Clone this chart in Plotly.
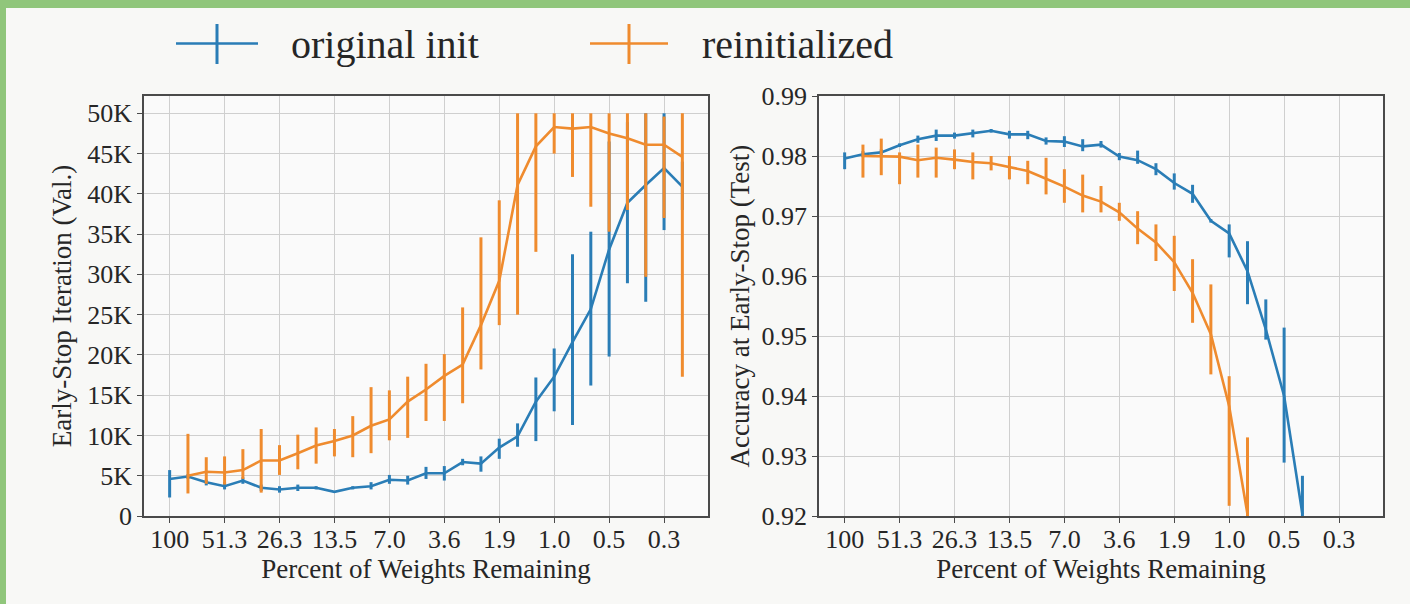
import plotly.graph_objects as go
from plotly.subplots import make_subplots

# ---- data -------------------------------------------------------------
rounds = list(range(29))                      # pruning rounds
tick_rounds = [0, 3, 6, 9, 12, 15, 18, 21, 24, 27]
tick_labels = ["100", "51.3", "26.3", "13.5", "7.0", "3.6", "1.9", "1.0", "0.5", "0.3"]

iter_tick_vals = [0, 5000, 10000, 15000, 20000, 25000, 30000, 35000, 40000, 45000, 50000]
iter_tick_text = ["0", "5K", "10K", "15K", "20K", "25K", "30K", "35K", "40K", "45K", "50K"]

# Early-stop iteration (thousands): mean, lower, upper
orig_iter = [4.6, 4.9, 4.2, 3.7, 4.4, 3.5, 3.3, 3.5, 3.5, 3.0, 3.5, 3.7, 4.5, 4.4, 5.3,
             5.3, 6.7, 6.5, 8.5, 9.9, 14.2, 17.3, 21.6, 25.7, 33.1, 38.9, 41.1, 43.2, 40.9]
orig_iter_lo = [2.3, 4.6, 3.8, 3.3, 4.0, 3.1, 2.9, 3.1, 3.3, 2.9, 3.3, 3.3, 4.0, 3.9, 4.6,
                4.4, 6.3, 5.5, 7.1, 8.6, 9.3, 13.0, 11.3, 16.2, 19.8, 28.9, 26.6, 35.5, 38.0]
orig_iter_hi = [5.7, 5.2, 4.5, 4.2, 4.8, 3.9, 3.7, 3.9, 3.7, 3.1, 3.7, 4.2, 5.1, 5.0, 6.1,
                6.2, 7.1, 7.4, 9.6, 11.5, 17.2, 20.8, 32.5, 35.3, 46.5, 48.9, 50.0, 50.0, 44.0]

reinit_iter = [None, 5.0, 5.5, 5.4, 5.7, 6.9, 6.9, 7.8, 8.75, 9.3, 10.0, 11.2, 12.0, 14.2, 15.7,
               17.4, 18.8, 23.7, 29.2, 41.1, 45.9, 48.3, 48.1, 48.3, 47.5, 46.9, 46.1, 46.1, 44.6]
reinit_iter_lo = [None, 2.8, 4.0, 3.9, 4.6, 2.9, 5.1, 5.8, 6.5, 7.4, 7.3, 7.8, 9.4, 9.7, 11.8,
                  11.8, 14.0, 18.2, 23.7, 25.0, 32.8, 45.0, 42.1, 38.4, 35.3, 38.0, 29.7, 37.0, 17.3]
reinit_iter_hi = [None, 10.2, 7.3, 7.4, 8.3, 10.8, 8.8, 10.1, 11.0, 10.8, 12.4, 16.0, 15.6, 17.3, 18.9,
                  20.1, 25.9, 34.6, 39.2, 50.0, 50.0, 50.0, 50.0, 50.0, 50.0, 50.0, 50.0, 49.6, 50.0]

# Test accuracy at early stop: mean, lower, upper
orig_acc = [.9796, .9803, .9806, .9818, .9828, .9834, .9834, .9838, .9842, .9836, .9836, .9825, .9824,
            .9816, .9819, .9799, .9793, .9778, .9755, .9737, .9692, .9671, .9608, .9511, .9400, .9203]
orig_acc_lo = [.9778, .9798, .9801, .9815, .9822, .9825, .9829, .9831, .9839, .9829, .9828, .9819, .9815,
               .9808, .9814, .9793, .9787, .9768, .9744, .9722, .9689, .9631, .9553, .9494, .9289, .9150]
orig_acc_hi = [.9806, .9808, .9811, .9821, .9834, .9844, .9839, .9844, .9845, .9842, .9842, .9831, .9833,
               .9828, .9825, .9805, .9809, .9788, .9771, .9752, .9695, .9686, .9658, .9561, .9514, .9267]

reinit_acc = [None, .9800, .9800, .9799, .9793, .9797, .9794, .9790, .9788, .9782, .9775, .9762, .9749,
              .9734, .9724, .9706, .9679, .9656, .9623, .9572, .9503, .9383, .9203]
reinit_acc_lo = [None, .9764, .9768, .9753, .9764, .9764, .9778, .9761, .9776, .9761, .9753, .9736, .9722,
                 .9706, .9706, .9692, .9653, .9625, .9575, .9522, .9436, .9217, .9100]
reinit_acc_hi = [None, .9819, .9829, .9806, .9819, .9814, .9811, .9806, .9800, .9800, .9792, .9797, .9778,
                 .9769, .9750, .9722, .9708, .9686, .9667, .9628, .9586, .9433, .9331]

# ---- style ------------------------------------------------------------
BLUE = "#2a7db6"
ORANGE = "#ef8b2e"
FONT = "Liberation Serif"
TXT = "#262626"
PAPER = "#f8f8f6"
W, H = 1410, 604


def k(vals):
    return [None if v is None else v * 1000 for v in vals]


def errs(mean, lo, hi):
    up = [None if m is None else h - m for m, h in zip(mean, hi)]
    dn = [None if m is None else m - l for m, l in zip(mean, lo)]
    return up, dn


def add_series(fig, col, y, lo, hi, color, name):
    up, dn = errs(y, lo, hi)
    fig.add_trace(go.Scatter(
        x=rounds[:len(y)], y=y, mode="lines", name=name, showlegend=False,
        line=dict(color=color, width=2.6),
        error_y=dict(type="data", symmetric=False, array=up, arrayminus=dn,
                     color=color, thickness=3, width=0),
    ), row=1, col=col)


fig = make_subplots(rows=1, cols=2)

add_series(fig, 1, k(orig_iter), k(orig_iter_lo), k(orig_iter_hi), BLUE, "original init")
add_series(fig, 1, k(reinit_iter), k(reinit_iter_lo), k(reinit_iter_hi), ORANGE, "reinitialized")
add_series(fig, 2, orig_acc, orig_acc_lo, orig_acc_hi, BLUE, "original init")
add_series(fig, 2, reinit_acc, reinit_acc_lo, reinit_acc_hi, ORANGE, "reinitialized")

axis_common = dict(
    showline=True, mirror=True, linecolor="#4a4a4a", linewidth=1.5,
    ticks="outside", ticklen=5, tickwidth=1.2, tickcolor="#4a4a4a",
    showgrid=True, gridcolor="#cfcfcf", gridwidth=1, zeroline=False,
    tickfont=dict(family=FONT, size=26, color=TXT),
    title_font=dict(family=FONT, size=27, color=TXT),
    automargin=False,
)

y_top, y_bot = 1 - 96 / H, 1 - 516 / H
fig.update_layout(
    xaxis=dict(domain=[144 / W, 708 / W], range=[-1.4, 29.4], tickmode="array",
               tickvals=tick_rounds, ticktext=tick_labels, ticklabelstandoff=-6,
               title=dict(text="Percent of Weights Remaining", standoff=2), **axis_common),
    xaxis2=dict(domain=[819 / W, 1383 / W], range=[-1.4, 29.4], tickmode="array",
                tickvals=tick_rounds, ticktext=tick_labels, ticklabelstandoff=-6,
                title=dict(text="Percent of Weights Remaining", standoff=2), **axis_common),
    yaxis=dict(domain=[y_bot, y_top], range=[0, 52150], tickmode="array",
               tickvals=iter_tick_vals, ticktext=iter_tick_text,
               title=dict(text="Early-Stop Iteration (Val.)", standoff=8), **axis_common),
    yaxis2=dict(domain=[y_bot, y_top], range=[0.92, 0.99], tickmode="array",
                tickvals=[0.92, 0.93, 0.94, 0.95, 0.96, 0.97, 0.98, 0.99], tickformat=".2f",
                title=dict(text="Accuracy at Early-Stop (Test)", standoff=4), **axis_common),
    width=W, height=H, autosize=False,
    margin=dict(l=0, r=0, t=0, b=0, pad=0, autoexpand=False),
    paper_bgcolor=PAPER,
    plot_bgcolor="#fafafa",
    showlegend=False,
    font=dict(family=FONT, color=TXT),
)

# frame bands (green) on top and left edges
fig.add_shape(type="rect", xref="paper", yref="paper", x0=0, x1=1, y0=1 - 8 / H, y1=1,
              fillcolor="#90c67b", line_width=0, layer="above")
fig.add_shape(type="rect", xref="paper", yref="paper", x0=0, x1=6 / W, y0=0, y1=1,
              fillcolor="#90c67b", line_width=0, layer="above")

# manual legend (line + vertical error tick + label)
legend_items = [("original init", BLUE, 176, 258, 289), ("reinitialized", ORANGE, 590, 668, 700)]
for label, color, x0, x1, tx in legend_items:
    fig.add_shape(type="line", xref="paper", yref="paper", x0=x0 / W, x1=x1 / W,
                  y0=1 - 43.5 / H, y1=1 - 43.5 / H, line=dict(color=color, width=2.6))
    xm = (x0 + x1) / 2
    fig.add_shape(type="line", xref="paper", yref="paper", x0=xm / W, x1=xm / W,
                  y0=1 - 24 / H, y1=1 - 64 / H, line=dict(color=color, width=3))
    fig.add_annotation(xref="paper", yref="paper", x=tx / W, y=1 - 44 / H, text=label,
                       showarrow=False, xanchor="left", yanchor="middle",
                       font=dict(family=FONT, size=40, color=TXT))

fig.write_html(
    "out.html",
    config={"displayModeBar": False, "responsive": False},
    post_script=(
        "document.documentElement.style.background='" + PAPER + "';"
        "document.body.style.margin='0';document.body.style.overflow='hidden';"
        "var gd=document.getElementById('{plot_id}');"
        "gd.style.position='fixed';gd.style.top='0px';gd.style.left='0px';"
    ),
)
